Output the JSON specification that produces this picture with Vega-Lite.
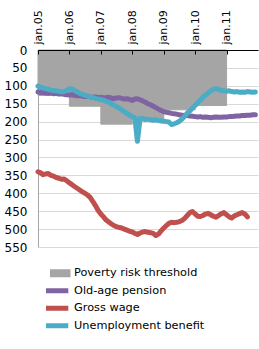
{
  "$schema": "https://vega.github.io/schema/vega-lite/v6.json",
  "width": 220,
  "height": 197,
  "autosize": {"type": "none"},
  "padding": {"left": 38, "top": 50, "right": 1, "bottom": 102},
  "background": "white",
  "config": {"view": {"stroke": null}, "font": "DejaVu Sans"},
  "datasets": {
    "threshold": [
      {"date": "2005-01-01", "end": "2006-01-01", "value": 127, "series": "Poverty risk threshold"},
      {"date": "2006-01-01", "end": "2007-01-01", "value": 157, "series": "Poverty risk threshold"},
      {"date": "2007-01-01", "end": "2008-01-01", "value": 207, "series": "Poverty risk threshold"},
      {"date": "2008-01-01", "end": "2009-01-01", "value": 193, "series": "Poverty risk threshold"},
      {"date": "2009-01-01", "end": "2010-01-01", "value": 167, "series": "Poverty risk threshold"},
      {"date": "2010-01-01", "end": "2011-01-01", "value": 155, "series": "Poverty risk threshold"}
    ],
    "monthly": [
      {"date": "2005-01-01", "Old-age pension": 117, "Gross wage": 340, "Unemployment benefit": 101},
      {"date": "2005-02-01", "Old-age pension": 119, "Gross wage": 343, "Unemployment benefit": 104},
      {"date": "2005-03-01", "Old-age pension": 118, "Gross wage": 348, "Unemployment benefit": 106},
      {"date": "2005-04-01", "Old-age pension": 120, "Gross wage": 346, "Unemployment benefit": 108},
      {"date": "2005-05-01", "Old-age pension": 121, "Gross wage": 345, "Unemployment benefit": 110},
      {"date": "2005-06-01", "Old-age pension": 119, "Gross wage": 350, "Unemployment benefit": 112},
      {"date": "2005-07-01", "Old-age pension": 122, "Gross wage": 352, "Unemployment benefit": 113},
      {"date": "2005-08-01", "Old-age pension": 121, "Gross wage": 356, "Unemployment benefit": 114},
      {"date": "2005-09-01", "Old-age pension": 123, "Gross wage": 358, "Unemployment benefit": 115},
      {"date": "2005-10-01", "Old-age pension": 122, "Gross wage": 361, "Unemployment benefit": 117},
      {"date": "2005-11-01", "Old-age pension": 124, "Gross wage": 360, "Unemployment benefit": 116},
      {"date": "2005-12-01", "Old-age pension": 125, "Gross wage": 365, "Unemployment benefit": 113},
      {"date": "2006-01-01", "Old-age pension": 126, "Gross wage": 371, "Unemployment benefit": 108},
      {"date": "2006-02-01", "Old-age pension": 124, "Gross wage": 376, "Unemployment benefit": 109},
      {"date": "2006-03-01", "Old-age pension": 127, "Gross wage": 381, "Unemployment benefit": 113},
      {"date": "2006-04-01", "Old-age pension": 128, "Gross wage": 386, "Unemployment benefit": 117},
      {"date": "2006-05-01", "Old-age pension": 127, "Gross wage": 391, "Unemployment benefit": 121},
      {"date": "2006-06-01", "Old-age pension": 129, "Gross wage": 396, "Unemployment benefit": 124},
      {"date": "2006-07-01", "Old-age pension": 130, "Gross wage": 400, "Unemployment benefit": 127},
      {"date": "2006-08-01", "Old-age pension": 129, "Gross wage": 405, "Unemployment benefit": 129},
      {"date": "2006-09-01", "Old-age pension": 131, "Gross wage": 412, "Unemployment benefit": 131},
      {"date": "2006-10-01", "Old-age pension": 132, "Gross wage": 423, "Unemployment benefit": 133},
      {"date": "2006-11-01", "Old-age pension": 131, "Gross wage": 435, "Unemployment benefit": 135},
      {"date": "2006-12-01", "Old-age pension": 133, "Gross wage": 448, "Unemployment benefit": 137},
      {"date": "2007-01-01", "Old-age pension": 132, "Gross wage": 458, "Unemployment benefit": 138},
      {"date": "2007-02-01", "Old-age pension": 134, "Gross wage": 466, "Unemployment benefit": 140},
      {"date": "2007-03-01", "Old-age pension": 133, "Gross wage": 474, "Unemployment benefit": 143},
      {"date": "2007-04-01", "Old-age pension": 132, "Gross wage": 480, "Unemployment benefit": 146},
      {"date": "2007-05-01", "Old-age pension": 134, "Gross wage": 485, "Unemployment benefit": 150},
      {"date": "2007-06-01", "Old-age pension": 136, "Gross wage": 490, "Unemployment benefit": 154},
      {"date": "2007-07-01", "Old-age pension": 134, "Gross wage": 493, "Unemployment benefit": 158},
      {"date": "2007-08-01", "Old-age pension": 133, "Gross wage": 495, "Unemployment benefit": 162},
      {"date": "2007-09-01", "Old-age pension": 135, "Gross wage": 497, "Unemployment benefit": 167},
      {"date": "2007-10-01", "Old-age pension": 137, "Gross wage": 500, "Unemployment benefit": 172},
      {"date": "2007-11-01", "Old-age pension": 136, "Gross wage": 503, "Unemployment benefit": 177},
      {"date": "2007-12-01", "Old-age pension": 138, "Gross wage": 506, "Unemployment benefit": 182},
      {"date": "2008-01-01", "Old-age pension": 141, "Gross wage": 508, "Unemployment benefit": 186},
      {"date": "2008-02-01", "Old-age pension": 137, "Gross wage": 512, "Unemployment benefit": 190},
      {"date": "2008-03-01", "Old-age pension": 136, "Gross wage": 515, "Unemployment benefit": 255},
      {"date": "2008-04-01", "Old-age pension": 139, "Gross wage": 511, "Unemployment benefit": 191},
      {"date": "2008-05-01", "Old-age pension": 142, "Gross wage": 508, "Unemployment benefit": 192},
      {"date": "2008-06-01", "Old-age pension": 146, "Gross wage": 507, "Unemployment benefit": 194},
      {"date": "2008-07-01", "Old-age pension": 150, "Gross wage": 509, "Unemployment benefit": 193},
      {"date": "2008-08-01", "Old-age pension": 153, "Gross wage": 510, "Unemployment benefit": 195},
      {"date": "2008-09-01", "Old-age pension": 157, "Gross wage": 512, "Unemployment benefit": 196},
      {"date": "2008-10-01", "Old-age pension": 161, "Gross wage": 518, "Unemployment benefit": 195},
      {"date": "2008-11-01", "Old-age pension": 165, "Gross wage": 514, "Unemployment benefit": 197},
      {"date": "2008-12-01", "Old-age pension": 169, "Gross wage": 505, "Unemployment benefit": 198},
      {"date": "2009-01-01", "Old-age pension": 172, "Gross wage": 497, "Unemployment benefit": 199},
      {"date": "2009-02-01", "Old-age pension": 174, "Gross wage": 490, "Unemployment benefit": 200},
      {"date": "2009-03-01", "Old-age pension": 175, "Gross wage": 484, "Unemployment benefit": 201},
      {"date": "2009-04-01", "Old-age pension": 177, "Gross wage": 481, "Unemployment benefit": 208},
      {"date": "2009-05-01", "Old-age pension": 178, "Gross wage": 482, "Unemployment benefit": 206},
      {"date": "2009-06-01", "Old-age pension": 179, "Gross wage": 481, "Unemployment benefit": 203},
      {"date": "2009-07-01", "Old-age pension": 181, "Gross wage": 479, "Unemployment benefit": 199},
      {"date": "2009-08-01", "Old-age pension": 182, "Gross wage": 476, "Unemployment benefit": 193},
      {"date": "2009-09-01", "Old-age pension": 183, "Gross wage": 470, "Unemployment benefit": 185},
      {"date": "2009-10-01", "Old-age pension": 183, "Gross wage": 462, "Unemployment benefit": 176},
      {"date": "2009-11-01", "Old-age pension": 184, "Gross wage": 454, "Unemployment benefit": 170},
      {"date": "2009-12-01", "Old-age pension": 185, "Gross wage": 451, "Unemployment benefit": 162},
      {"date": "2010-01-01", "Old-age pension": 186, "Gross wage": 458, "Unemployment benefit": 155},
      {"date": "2010-02-01", "Old-age pension": 187, "Gross wage": 464, "Unemployment benefit": 147},
      {"date": "2010-03-01", "Old-age pension": 186, "Gross wage": 465, "Unemployment benefit": 140},
      {"date": "2010-04-01", "Old-age pension": 188, "Gross wage": 462, "Unemployment benefit": 132},
      {"date": "2010-05-01", "Old-age pension": 187, "Gross wage": 458, "Unemployment benefit": 126},
      {"date": "2010-06-01", "Old-age pension": 188, "Gross wage": 456, "Unemployment benefit": 120},
      {"date": "2010-07-01", "Old-age pension": 189, "Gross wage": 460, "Unemployment benefit": 114},
      {"date": "2010-08-01", "Old-age pension": 188, "Gross wage": 464, "Unemployment benefit": 110},
      {"date": "2010-09-01", "Old-age pension": 187, "Gross wage": 467, "Unemployment benefit": 108},
      {"date": "2010-10-01", "Old-age pension": 188, "Gross wage": 462, "Unemployment benefit": 110},
      {"date": "2010-11-01", "Old-age pension": 188, "Gross wage": 457, "Unemployment benefit": 113},
      {"date": "2010-12-01", "Old-age pension": 187, "Gross wage": 454, "Unemployment benefit": 114},
      {"date": "2011-01-01", "Old-age pension": 187, "Gross wage": 460, "Unemployment benefit": 115},
      {"date": "2011-02-01", "Old-age pension": 186, "Gross wage": 466, "Unemployment benefit": 114},
      {"date": "2011-03-01", "Old-age pension": 186, "Gross wage": 469, "Unemployment benefit": 116},
      {"date": "2011-04-01", "Old-age pension": 185, "Gross wage": 463, "Unemployment benefit": 117},
      {"date": "2011-05-01", "Old-age pension": 184, "Gross wage": 460, "Unemployment benefit": 116},
      {"date": "2011-06-01", "Old-age pension": 184, "Gross wage": 457, "Unemployment benefit": 118},
      {"date": "2011-07-01", "Old-age pension": 183, "Gross wage": 454, "Unemployment benefit": 117},
      {"date": "2011-08-01", "Old-age pension": 183, "Gross wage": 458, "Unemployment benefit": 118},
      {"date": "2011-09-01", "Old-age pension": 182, "Gross wage": 466, "Unemployment benefit": 116},
      {"date": "2011-10-01", "Old-age pension": 182, "Unemployment benefit": 117},
      {"date": "2011-11-01", "Old-age pension": 181, "Unemployment benefit": 118},
      {"date": "2011-12-01", "Old-age pension": 181, "Unemployment benefit": 117}
    ]
  },
  "encoding": {
    "x": {
      "field": "date",
      "type": "temporal",
      "scale": {
        "type": "utc",
        "domain": [
          {"year": 2005, "month": 1, "date": 1, "utc": true},
          {"year": 2012, "month": 1, "date": 1, "utc": true}
        ]
      },
      "axis": {
        "orient": "top",
        "title": null,
        "grid": false,
        "values": [
          {"year": 2005, "month": 1, "date": 1, "utc": true},
          {"year": 2006, "month": 1, "date": 1, "utc": true},
          {"year": 2007, "month": 1, "date": 1, "utc": true},
          {"year": 2008, "month": 1, "date": 1, "utc": true},
          {"year": 2009, "month": 1, "date": 1, "utc": true},
          {"year": 2010, "month": 1, "date": 1, "utc": true},
          {"year": 2011, "month": 1, "date": 1, "utc": true}
        ],
        "labelExpr": "'jan.' + utcFormat(datum.value, '%y')",
        "labelAngle": -90,
        "labelFontSize": 11,
        "labelColor": "#000000",
        "labelPadding": 10,
        "labelFlush": false,
        "labelOverlap": false,
        "domainColor": "#000000",
        "tickColor": "#000000",
        "tickSize": -4,
        "zindex": 2
      }
    },
    "y": {
      "field": "value",
      "type": "quantitative",
      "scale": {"domain": [0, 550], "reverse": true, "nice": false, "zero": true},
      "axis": {
        "title": null,
        "values": [0, 50, 100, 150, 200, 250, 300, 350, 400, 450, 500, 550],
        "grid": true,
        "gridColor": "#D9D9D9",
        "ticks": false,
        "domainColor": "#A6A6A6",
        "labelFontSize": 12,
        "labelColor": "#000000",
        "labelPadding": 11
      }
    }
  },
  "layer": [
    {
      "data": {"name": "threshold"},
      "mark": {"type": "bar", "color": "#A5A5A5", "stroke": "#A5A5A5", "strokeWidth": 1},
      "encoding": {
        "x2": {"field": "end"},
        "y2": {"datum": 0},
        "fill": {
          "field": "series",
          "type": "nominal",
          "scale": {"domain": ["Poverty risk threshold"], "range": ["#A5A5A5"]},
          "legend": {
            "title": null,
            "orient": "none",
            "legendX": 12,
            "legendY": 216.3,
            "padding": 0,
            "symbolType": "M-2,-0.6H2V0.6H-2Z",
            "symbolSize": 182,
            "symbolStrokeWidth": 0,
            "clipHeight": 14,
            "labelFontSize": 11.3,
            "labelColor": "#000000",
            "labelOffset": 10,
            "rowPadding": 3.5
          }
        }
      }
    },
    {
      "data": {"name": "monthly"},
      "transform": [
        {"fold": ["Old-age pension", "Gross wage", "Unemployment benefit"], "as": ["series", "value"]},
        {"filter": "isValid(datum.value)"}
      ],
      "mark": {"type": "line", "strokeWidth": 5, "strokeJoin": "round", "strokeCap": "round"},
      "encoding": {
        "stroke": {
          "field": "series",
          "type": "nominal",
          "scale": {
            "domain": ["Old-age pension", "Gross wage", "Unemployment benefit"],
            "range": ["#8064A2", "#C0504D", "#4BACC6"]
          },
          "legend": {
            "title": null,
            "orient": "none",
            "legendX": 8,
            "legendY": 233.7,
            "padding": 0,
            "symbolType": "M-1.9,0H1.9",
            "symbolSize": 182,
            "symbolStrokeWidth": 5,
            "clipHeight": 14,
            "labelFontSize": 11.3,
            "labelColor": "#000000",
            "labelOffset": 9,
            "rowPadding": 3.5
          }
        }
      }
    }
  ]
}
